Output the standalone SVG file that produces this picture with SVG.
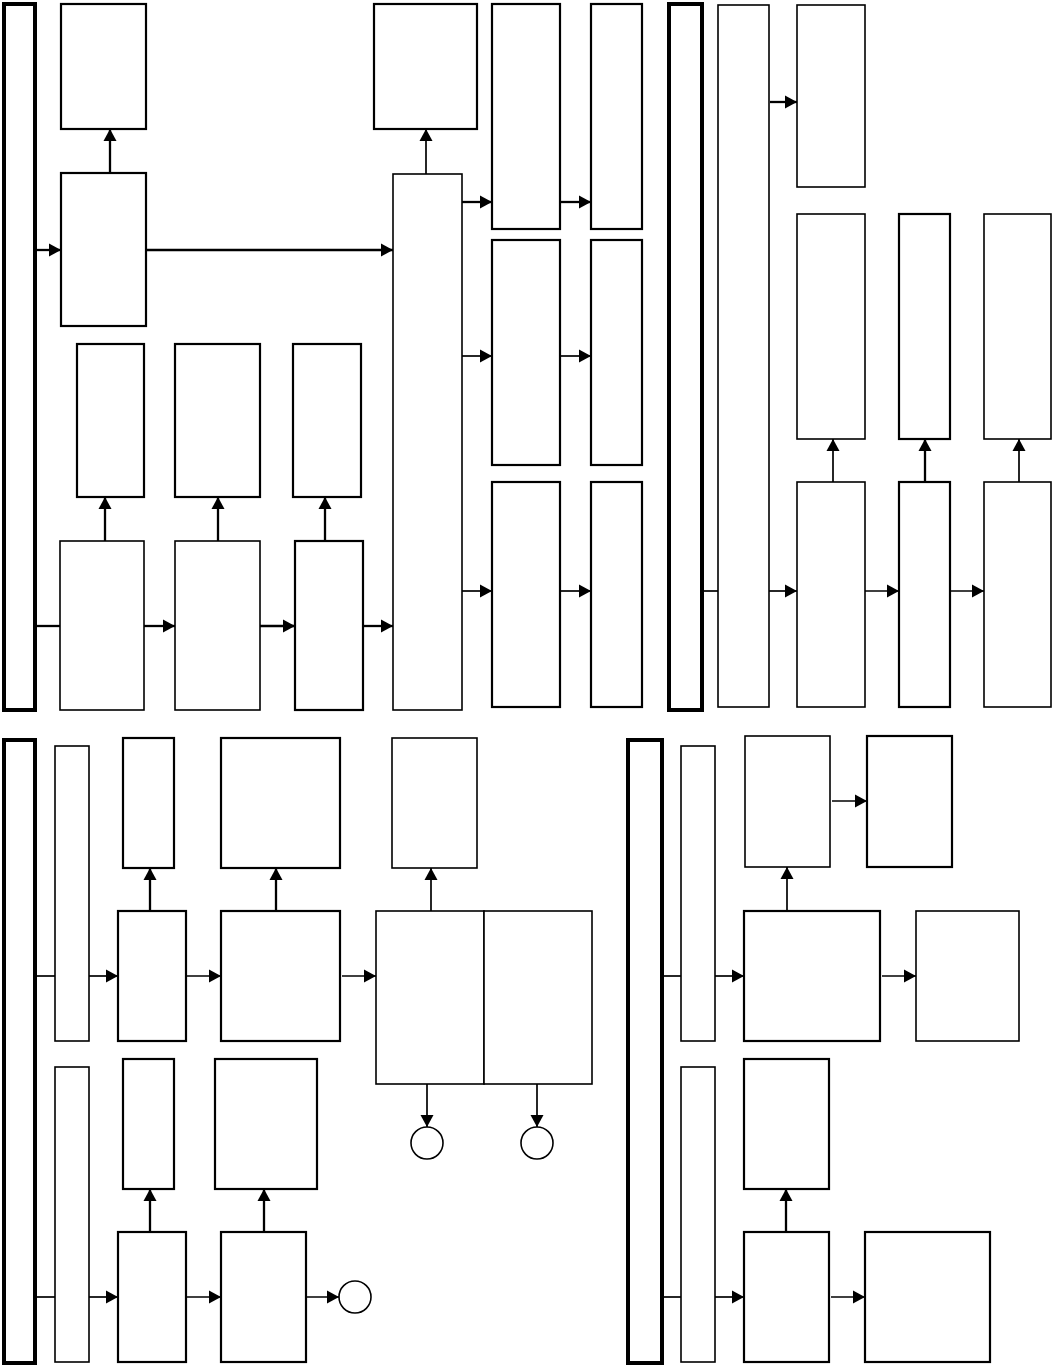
<svg xmlns="http://www.w3.org/2000/svg" width="1052" height="1366" viewBox="0 0 1052 1366">
<style>
rect,circle{fill:#fff;stroke:#000}
.k{stroke-width:4}
.b{stroke-width:2.2}
.t{stroke-width:1.6}
line{stroke:#000;stroke-width:1.7}
line.w{stroke-width:2.3}
.a{marker-end:url(#ah)}
</style>
<defs>
<marker id="ah" markerUnits="userSpaceOnUse" markerWidth="13" markerHeight="14" refX="12" refY="7" orient="auto">
<path d="M0,0.5 L12,7 L0,13.5 z" fill="#000"/>
</marker>
</defs>
<rect width="1052" height="1366" style="stroke:none"/>
<g id="nodes">
<g id="bar1"><rect class="k" x="4" y="4" width="31" height="706"/></g>
<g id="nA"><rect class="b" x="61" y="4" width="85" height="125"/></g>
<g id="nB"><rect class="b" x="61" y="173" width="85" height="153"/></g>
<g id="nC"><rect class="t" x="393" y="174" width="69" height="536"/></g>
<g id="nD"><rect class="b" x="374" y="4" width="103" height="125"/></g>
<g id="nE1"><rect class="b" x="492" y="4" width="68" height="225"/></g>
<g id="nF1"><rect class="b" x="591" y="4" width="51" height="225"/></g>
<g id="nE2"><rect class="b" x="492" y="240" width="68" height="225"/></g>
<g id="nF2"><rect class="b" x="591" y="240" width="51" height="225"/></g>
<g id="nE3"><rect class="b" x="492" y="482" width="68" height="225"/></g>
<g id="nF3"><rect class="b" x="591" y="482" width="51" height="225"/></g>
<g id="nG1"><rect class="b" x="77" y="344" width="67" height="153"/></g>
<g id="nG2"><rect class="b" x="175" y="344" width="85" height="153"/></g>
<g id="nG3"><rect class="b" x="293" y="344" width="68" height="153"/></g>
<g id="nH1"><rect class="t" x="60" y="541" width="84" height="169"/></g>
<g id="nH2"><rect class="t" x="175" y="541" width="85" height="169"/></g>
<g id="nH3"><rect class="b" x="295" y="541" width="68" height="169"/></g>
<g id="bar2"><rect class="k" x="669" y="4" width="33" height="706"/></g>
<g id="nI"><rect class="t" x="718" y="5" width="51" height="702"/></g>
<g id="nJ"><rect class="t" x="797" y="5" width="68" height="182"/></g>
<g id="nK1"><rect class="t" x="797" y="214" width="68" height="225"/></g>
<g id="nK2"><rect class="b" x="899" y="214" width="51" height="225"/></g>
<g id="nK3"><rect class="t" x="984" y="214" width="67" height="225"/></g>
<g id="nL1"><rect class="t" x="797" y="482" width="68" height="225"/></g>
<g id="nL2"><rect class="b" x="899" y="482" width="51" height="225"/></g>
<g id="nL3"><rect class="t" x="984" y="482" width="67" height="225"/></g>
<g id="bar3"><rect class="k" x="4" y="740" width="31" height="623"/></g>
<g id="nM1"><rect class="t" x="55" y="746" width="34" height="295"/></g>
<g id="nN1"><rect class="b" x="123" y="738" width="51" height="130"/></g>
<g id="nO1"><rect class="b" x="221" y="738" width="119" height="130"/></g>
<g id="nN2"><rect class="b" x="118" y="911" width="68" height="130"/></g>
<g id="nO2"><rect class="b" x="221" y="911" width="119" height="130"/></g>
<g id="nQ"><rect class="t" x="392" y="738" width="85" height="130"/></g>
<g id="nP1"><rect class="t" x="376" y="911" width="108" height="173"/></g>
<g id="nP2"><rect class="t" x="484" y="911" width="108" height="173"/></g>
<g id="c1"><circle class="t" cx="427" cy="1143" r="16"/></g>
<g id="c2"><circle class="t" cx="537" cy="1143" r="16"/></g>
<g id="nM2"><rect class="t" x="55" y="1067" width="34" height="295"/></g>
<g id="nN3"><rect class="b" x="123" y="1059" width="51" height="130"/></g>
<g id="nO3"><rect class="b" x="215" y="1059" width="102" height="130"/></g>
<g id="nN4"><rect class="b" x="118" y="1232" width="68" height="130"/></g>
<g id="nO4"><rect class="b" x="221" y="1232" width="85" height="130"/></g>
<g id="c3"><circle class="t" cx="355" cy="1297" r="16"/></g>
<g id="bar4"><rect class="k" x="628" y="740" width="34" height="623"/></g>
<g id="nR1"><rect class="t" x="681" y="746" width="34" height="295"/></g>
<g id="nS"><rect class="t" x="745" y="736" width="85" height="131"/></g>
<g id="nT"><rect class="b" x="867" y="736" width="85" height="131"/></g>
<g id="nU"><rect class="b" x="744" y="911" width="136" height="130"/></g>
<g id="nV"><rect class="t" x="916" y="911" width="103" height="130"/></g>
<g id="nR2"><rect class="t" x="681" y="1067" width="34" height="295"/></g>
<g id="nW"><rect class="b" x="744" y="1059" width="85" height="130"/></g>
<g id="nX"><rect class="b" x="744" y="1232" width="85" height="130"/></g>
<g id="nY"><rect class="b" x="865" y="1232" width="125" height="130"/></g>
</g>
<g id="connectors">
<line class="w a" x1="36" y1="250" x2="61" y2="250"/>
<line class="w a" x1="110" y1="173" x2="110" y2="129"/>
<line class="w a" x1="146" y1="250" x2="393" y2="250"/>
<line class="a" x1="426" y1="174" x2="426" y2="129"/>
<line class="w a" x1="462" y1="202" x2="492" y2="202"/>
<line class="w a" x1="560" y1="202" x2="591" y2="202"/>
<line class="a" x1="462" y1="356" x2="492" y2="356"/>
<line class="a" x1="560" y1="356" x2="591" y2="356"/>
<line class="a" x1="462" y1="591" x2="492" y2="591"/>
<line class="a" x1="560" y1="591" x2="591" y2="591"/>
<line class="w" x1="36" y1="626" x2="60" y2="626"/>
<line class="w a" x1="144" y1="626" x2="175" y2="626"/>
<line class="w a" x1="260" y1="626" x2="295" y2="626"/>
<line class="w a" x1="363" y1="626" x2="393" y2="626"/>
<line class="w a" x1="105" y1="541" x2="105" y2="497"/>
<line class="w a" x1="218" y1="541" x2="218" y2="497"/>
<line class="w a" x1="325" y1="541" x2="325" y2="497"/>
<line class="w a" x1="770" y1="102" x2="797" y2="102"/>
<line x1="702" y1="591" x2="718" y2="591"/>
<line class="a" x1="769" y1="591" x2="797" y2="591"/>
<line class="a" x1="865" y1="591" x2="899" y2="591"/>
<line class="a" x1="950" y1="591" x2="984" y2="591"/>
<line class="a" x1="833" y1="482" x2="833" y2="439"/>
<line class="w a" x1="925" y1="482" x2="925" y2="439"/>
<line class="a" x1="1019" y1="482" x2="1019" y2="439"/>
<line x1="36" y1="976" x2="55" y2="976"/>
<line class="a" x1="89" y1="976" x2="118" y2="976"/>
<line class="a" x1="186" y1="976" x2="221" y2="976"/>
<line class="a" x1="342" y1="976" x2="376" y2="976"/>
<line class="w a" x1="150" y1="911" x2="150" y2="868"/>
<line class="w a" x1="276" y1="911" x2="276" y2="868"/>
<line class="a" x1="431" y1="911" x2="431" y2="868"/>
<line class="a" x1="427" y1="1084" x2="427" y2="1127"/>
<line class="a" x1="537" y1="1084" x2="537" y2="1127"/>
<line x1="36" y1="1297" x2="55" y2="1297"/>
<line class="a" x1="89" y1="1297" x2="118" y2="1297"/>
<line class="a" x1="186" y1="1297" x2="221" y2="1297"/>
<line class="a" x1="306" y1="1297" x2="339" y2="1297"/>
<line class="w a" x1="150" y1="1232" x2="150" y2="1189"/>
<line class="w a" x1="264" y1="1232" x2="264" y2="1189"/>
<line class="a" x1="832" y1="801" x2="867" y2="801"/>
<line x1="662" y1="976" x2="681" y2="976"/>
<line class="a" x1="715" y1="976" x2="744" y2="976"/>
<line class="a" x1="882" y1="976" x2="916" y2="976"/>
<line class="a" x1="787" y1="911" x2="787" y2="867"/>
<line x1="662" y1="1297" x2="681" y2="1297"/>
<line class="a" x1="715" y1="1297" x2="744" y2="1297"/>
<line class="a" x1="831" y1="1297" x2="865" y2="1297"/>
<line class="w a" x1="786" y1="1232" x2="786" y2="1189"/>
</g>
</svg>
